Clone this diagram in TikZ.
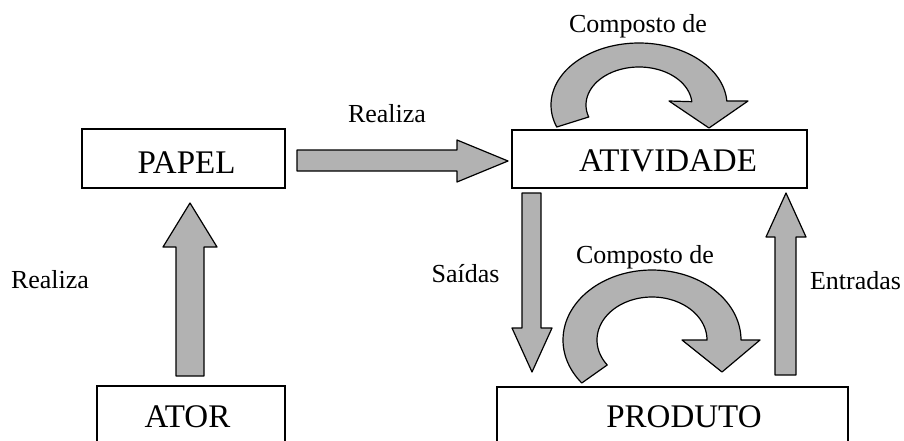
\documentclass[tikz,border=0pt]{standalone}
\usepackage{fontspec}
\setmainfont{Liberation Serif}
\definecolor{arrowgray}{RGB}{178,178,178}
\begin{document}
\begin{tikzpicture}[x=1pt,y=-1pt,
  boxshape/.style={draw=black, line width=1.4pt, fill=white, inner sep=0pt},
  bigtxt/.style={inner sep=0pt, anchor=base, font=\fontsize{33}{36}\selectfont},
  smalltxt/.style={inner sep=0pt, anchor=base, font=\fontsize{26}{30}\selectfont},
  blockarrow/.style={draw=black, line width=1.2pt, fill=arrowgray, line join=round}]
\useasboundingbox (0,0) rectangle (904,441);
\clip (0,0) rectangle (904,441);

% boxes
\node[boxshape, minimum width=203pt, minimum height=59pt] (papel) at (183.5,158.5) {};
\node[bigtxt] (papeltxt) at (186.5,173) {PAPEL};
\node[boxshape, minimum width=295pt, minimum height=58pt] (ativ) at (659.5,159) {};
\node[bigtxt] (ativtxt) at (668,171) {ATIVIDADE};
\node[boxshape, minimum width=188pt, minimum height=62pt] (ator) at (191,417) {};
\node[bigtxt] (atortxt) at (187.5,427) {ATOR};
\node[boxshape, minimum width=351pt, minimum height=62pt] (produto) at (672.5,418) {};
\node[bigtxt] (produtotxt) at (684,427) {PRODUTO};

% ATOR -> PAPEL
\draw[blockarrow] (176,376) -- (176,247) -- (163,247) -- (190,203) -- (217,247) -- (204,247) -- (204,376) -- cycle;
% PAPEL -> ATIVIDADE
\draw[blockarrow] (297,150) -- (457,150) -- (457,140) -- (508,161) -- (457,182) -- (457,171) -- (297,171) -- cycle;
% Saidas: ATIVIDADE -> PRODUTO
\draw[blockarrow] (522,193) -- (541,193) -- (541,328) -- (552,328) -- (532,372) -- (512,328) -- (522,328) -- cycle;
% Entradas: PRODUTO -> ATIVIDADE
\draw[blockarrow] (775,375) -- (775,237) -- (766,237) -- (786,193) -- (806,237) -- (796,237) -- (796,375) -- cycle;

% top curved arrow (Composto de)
\draw[blockarrow]
  plot[domain=200.8:3.7, samples=80] ({639+88*cos(\x)},{105-62*sin(\x)})
  -- (748,101) -- (709,128) -- (669,101)
  -- plot[domain=5:198.4, samples=80] ({639+53*cos(\x)},{105-38*sin(\x)})
  -- cycle;

% bottom curved arrow (Composto de)
\draw[blockarrow]
  plot[domain=217.9:0, samples=80] ({652+89*cos(\x)},{340-70*sin(\x)})
  -- (760,340) -- (722,372) -- (682,340)
  -- plot[domain=0:215.5, samples=80] ({652+55*cos(\x)},{340-43*sin(\x)})
  -- cycle;

% labels
\node[smalltxt] (lblrealiza1) at (387,122) {Realiza};
\node[smalltxt] (lblrealiza2) at (50,288) {Realiza};
\node[smalltxt] (lblcomp1) at (638,33) {Composto de};
\node[smalltxt] (lblcomp2) at (645,263) {Composto de};
\node[smalltxt] (lblsaidas) at (465.5,282) {Saídas};
\node[smalltxt] (lblentradas) at (855.5,289) {Entradas};
\end{tikzpicture}
\end{document}
